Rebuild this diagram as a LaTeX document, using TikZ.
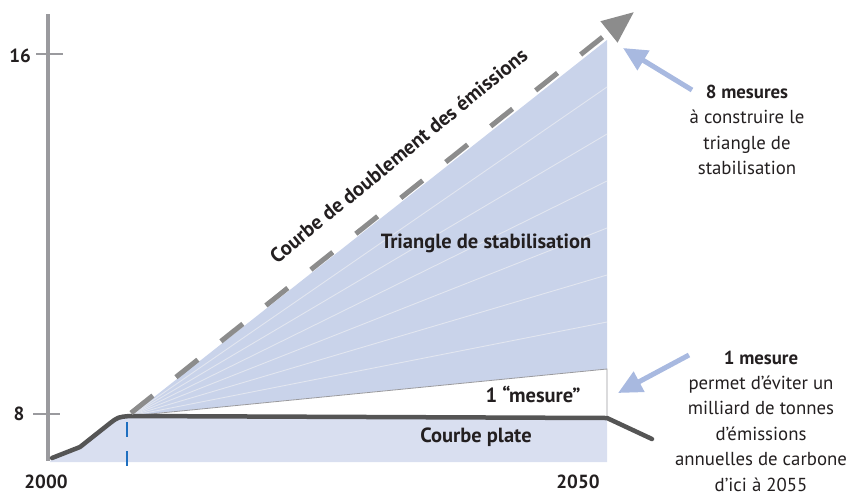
\documentclass[tikz,border=0pt]{standalone}
\usepackage{fontspec}
\setmainfont{PT Sans}
\usetikzlibrary{arrows.meta}
\definecolor{tri}{HTML}{C9D3EA}
\definecolor{basefill}{HTML}{D9DFF0}
\definecolor{axisgray}{HTML}{9A9A9E}
\definecolor{curvegray}{HTML}{555555}
\definecolor{dashgray}{HTML}{8C8C8C}
\definecolor{arrowblue}{HTML}{A8B9E0}
\definecolor{markblue}{HTML}{1F6FC0}
\definecolor{ink}{HTML}{231F20}
\definecolor{fanline}{HTML}{E2E6F0}
\begin{document}
\begin{tikzpicture}[x=1pt,y=-1pt,
  lbl/.style={font=\bfseries\fontsize{20.5}{24}\selectfont, text=ink, inner sep=0pt},
  note/.style={font=\fontsize{18.8}{25.4}\selectfont, align=center, text=ink, inner sep=0pt},
  ticklbl/.style={font=\bfseries\fontsize{19}{22}\selectfont, text=ink, inner sep=0pt},
  tickline/.style={axisgray, line width=1.4pt},
  bluearrow/.style={arrowblue, line width=5pt, -{Triangle[length=24pt,width=22pt]}},
  fan/.style={fanline, line width=0.9pt}]
\useasboundingbox (0,0) rectangle (848,496);

% key points
\coordinate (c0) at (52,458);
\coordinate (c1) at (80,447);
\coordinate (c2) at (109,424);
\coordinate (apex) at (130,416);
\coordinate (c3) at (607,418);
\coordinate (c4) at (652,439);
\coordinate (top) at (607,40);
\coordinate (m1) at (607,369);
\coordinate (bot) at (607,416);

% lower fill
\fill[basefill] (50,462) -- (c0) -- (c1) -- (c2) .. controls (118,417) .. (apex) -- (c3) -- (607,462) -- cycle;

% triangle of stabilisation
\fill[tri] (apex) -- (top) -- (m1) -- cycle;
\fill[white] (apex) -- (m1) -- (bot) -- cycle;
\foreach \i in {1,...,6} {
  \coordinate (f\i) at (607,{40+\i*47});
  \draw[fan] (apex) -- (f\i);
}
\draw[axisgray, line width=0.8pt] (apex) -- (m1) -- (bot);

% axis
\coordinate (axtop) at (48,14);
\coordinate (axbot) at (48,461);
\draw[axisgray, line width=4pt] (axtop) -- (axbot);
\coordinate (t16a) at (36,54);
\coordinate (t16b) at (63,54);
\coordinate (t8a) at (33,414);
\coordinate (t8b) at (60,414);
\draw[tickline] (t16a) -- (t16b);
\draw[tickline] (t8a) -- (t8b);
\node[ticklbl, anchor=east] (l16) at (31,56) {16};
\node[ticklbl] (l8) at (19,414) {8};
\node[ticklbl] (l2000) at (46,482) {2000};
\node[ticklbl] (l2050) at (578,482) {2050};

% blue dashed marker
\coordinate (mk1) at (127,422);
\coordinate (mk2) at (127,466);
\draw[markblue, line width=2pt, dash pattern=on 15pt off 14pt] (mk1) -- (mk2);

% flat curve
\draw[curvegray, line width=4.5pt, line join=round, line cap=round] (c0) -- (c1) -- (c2) .. controls (118,417) .. (apex) -- (c3) -- (c4);

% doubling dashed line
\coordinate (d0) at (131,413);
\coordinate (dtip) at (634,12);
\draw[dashgray, line width=5pt, dash pattern=on 28pt off 29.5pt, -{Triangle[length=32pt,width=26pt]}] (d0) -- (dtip);

% labels on chart
\node[lbl, rotate=39.3, anchor=base] (courbe) at (403,161) {Courbe de doublement des émissions};
\node[lbl] (trilbl) at (486,243) {Triangle de stabilisation};
\node[lbl] (unlbl) at (533,394) {1 “mesure”};
\node[lbl] (platelbl) at (476,437) {Courbe plate};

% right notes
\node[note] (n8) at (747,130) {\textbf{8 mesures}\\à construire le\\triangle de\\stabilisation};
\node[note] (n1) at (761,421) {\textbf{1 mesure}\\permet d'éviter un\\milliard de tonnes\\d'émissions\\annuelles de carbone\\d'ici à 2055};

% blue arrows
\coordinate (a8s) at (692,90);
\coordinate (a8e) at (623,48);
\coordinate (a1s) at (689,355);
\coordinate (a1e) at (618,393);
\draw[bluearrow] (a8s) -- (a8e);
\draw[bluearrow] (a1s) -- (a1e);
\end{tikzpicture}
\end{document}
